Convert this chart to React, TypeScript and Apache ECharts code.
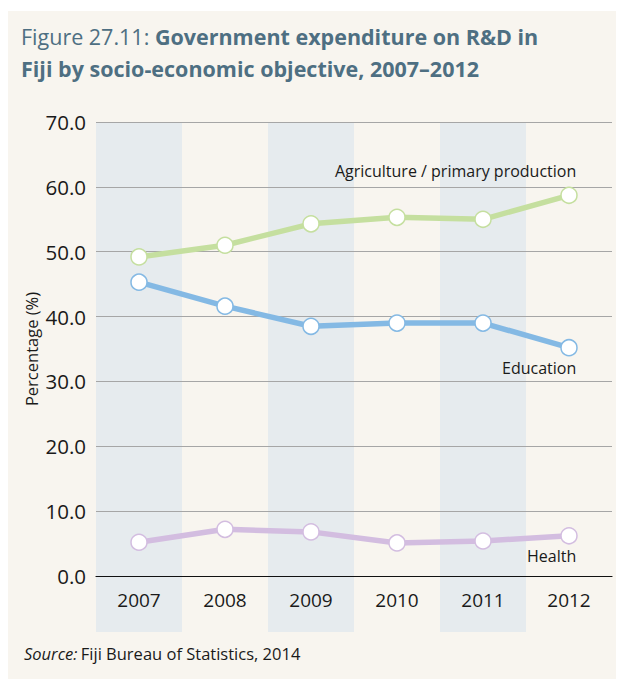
import React, { useEffect, useRef } from "react";
import * as echarts from "echarts";

const years = ["2007", "2008", "2009", "2010", "2011", "2012"];
const agriculture = [49.2, 51.0, 54.3, 55.3, 55.0, 58.7];
const education = [45.3, 41.6, 38.5, 39.0, 39.0, 35.2];
const health = [5.2, 7.2, 6.8, 5.1, 5.4, 6.2];
const seriesNames = ["Agriculture / primary production", "Education", "Health"];
const shadedYears = ["2007", "2009", "2011"];

const FONT = "Open Sans";
const TITLE_COLOR = "#4e6f82";
const BG = "#f8f5ef";
const BAND = "#e6ebee";
const TEXT = "#1a1a1a";

export default function App() {
  const ref = useRef<HTMLDivElement>(null);
  useEffect(() => {
    if (!ref.current) return;
    const chart = echarts.init(ref.current, undefined, { renderer: "svg" });
    const mkSeries = (name: string, data: number[], color: string, labelDy: number) => ({
      name,
      type: "line",
      data: data.map((v, i) =>
        i === data.length - 1
          ? {
              value: v,
              label: {
                show: true,
                formatter: name,
                position: [16, 8 + labelDy],
                align: "right",
                verticalAlign: "middle",
                fontFamily: FONT,
                fontSize: 16,
                color: TEXT,
              },
            }
          : v
      ),
      symbol: "circle",
      symbolSize: 16,
      showSymbol: true,
      lineStyle: { color, width: 5.5 },
      itemStyle: { color: "#ffffff", borderColor: color, borderWidth: 1.5 },
      z: 3,
    });
    chart.setOption({
      animation: false,
      backgroundColor: BG,
      textStyle: { fontFamily: FONT },
      grid: { left: 88, right: 12, top: 111, bottom: 103 },
      xAxis: {
        type: "category",
        data: years,
        boundaryGap: true,
        axisLine: { show: true, lineStyle: { color: "#111", width: 1.2 } },
        axisTick: { show: false },
        axisLabel: { fontSize: 19, color: TEXT, margin: 14, fontFamily: FONT },
        splitLine: { show: false },
      },
      yAxis: {
        type: "value",
        min: 0,
        max: 70,
        interval: 10,
        name: "Percentage (%)",
        nameLocation: "middle",
        nameGap: 56,
        nameMoveOverlap: false,
        nameRotate: 90,
        nameTextStyle: { fontSize: 16.5, color: TEXT, fontFamily: FONT },
        axisLine: { show: false },
        axisTick: { show: false },
        axisLabel: {
          fontSize: 20.5,
          color: TEXT,
          margin: 10,
          fontFamily: FONT,
          formatter: (v: number) => v.toFixed(1),
        },
        splitLine: { show: true, lineStyle: { color: "#a6a6a6", width: 1 } },
      },
      series: [
        mkSeries(seriesNames[0], agriculture, "#c5df9f", -24),
        mkSeries(seriesNames[1], education, "#84b9e4", 21),
        mkSeries(seriesNames[2], health, "#d3bde0", 21),
      ],
    });

    const xa = chart.convertToPixel({ xAxisIndex: 0 }, years[0]) as number;
    const xb = chart.convertToPixel({ xAxisIndex: 0 }, years[1]) as number;
    const bw = xb - xa;
    const yTop = chart.convertToPixel({ yAxisIndex: 0 }, 70) as number;
    const yZero = chart.convertToPixel({ yAxisIndex: 0 }, 0) as number;
    const bandBottom = yZero + 56;

    const bands = shadedYears.map((y) => {
      const cx = chart.convertToPixel({ xAxisIndex: 0 }, y) as number;
      return {
        type: "rect",
        z: -1,
        shape: { x: cx - bw / 2, y: yTop, width: bw, height: bandBottom - yTop },
        style: { fill: BAND },
        silent: true,
      };
    });

    chart.setOption({
      graphic: [
        ...bands,
        {
          type: "text",
          left: 13,
          top: 14,
          style: {
            text: "{r|Figure 27.11: }{b|Government expenditure on R&D in}\n{b|Fiji by socio-economic objective, 2007–2012}",
            fill: TITLE_COLOR,
            rich: {
              r: { fontFamily: FONT, fontSize: 21.5, fill: TITLE_COLOR, lineHeight: 32 },
              b: {
                fontFamily: FONT,
                fontSize: 21.5,
                fontWeight: "bold",
                fill: TITLE_COLOR,
                lineHeight: 32,
              },
            },
          },
        },
        {
          type: "text",
          left: 16,
          top: 634,
          style: {
            text: "{i|Source:} {r|Fiji Bureau of Statistics, 2014}",
            fill: TEXT,
            rich: {
              i: { fontFamily: FONT, fontSize: 16.5, fontStyle: "italic", fill: TEXT },
              r: { fontFamily: FONT, fontSize: 16.5, fill: TEXT },
            },
          },
        },
      ],
    });

    return () => chart.dispose();
  }, []);
  return (
    <div style={{ paddingTop: 3, background: "#ffffff" }}>
      <div ref={ref} style={{ width: 616, height: 668 }} />
    </div>
  );
}
